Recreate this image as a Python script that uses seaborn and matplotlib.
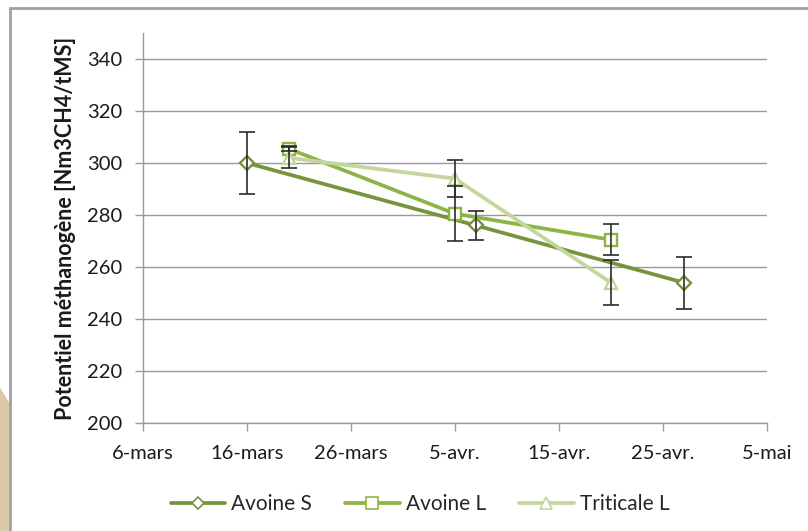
import matplotlib
matplotlib.use("Agg")
import matplotlib.pyplot as plt
from matplotlib.patches import Rectangle, Polygon
import pandas as pd
import seaborn as sns
from datetime import datetime

# Sampling dates, methane potential and error for each crop
avoine_s_dates = ["2012-03-16", "2012-04-07", "2012-04-27"]
avoine_s_vals = [300.0, 276.0, 254.0]
avoine_s_err = [12.0, 5.5, 10.0]

avoine_l_dates = ["2012-03-20", "2012-04-05", "2012-04-20"]
avoine_l_vals = [305.5, 280.5, 270.5]
avoine_l_err = [1.0, 10.5, 6.0]

triticale_l_dates = ["2012-03-20", "2012-04-05", "2012-04-20"]
triticale_l_vals = [302.0, 294.0, 254.0]
triticale_l_err = [4.0, 7.0, 8.5]

series_names = ["Avoine S", "Avoine L", "Triticale L"]
x_tick_labels = ["6-mars", "16-mars", "26-mars", "5-avr.", "15-avr.", "25-avr.", "5-mai"]
y_ticks = [200, 220, 240, 260, 280, 300, 320, 340]

colors = {"Avoine S": "#77933C", "Avoine L": "#8DB446", "Triticale L": "#C3D69B"}
markers = {"Avoine S": "D", "Avoine L": "s", "Triticale L": "^"}
msizes = {"Avoine S": 7, "Avoine L": 9, "Triticale L": 9}

frames = []
for name, d, v, e in [("Avoine S", avoine_s_dates, avoine_s_vals, avoine_s_err),
                      ("Avoine L", avoine_l_dates, avoine_l_vals, avoine_l_err),
                      ("Triticale L", triticale_l_dates, triticale_l_vals, triticale_l_err)]:
    frames.append(pd.DataFrame({"date": pd.to_datetime(d), "val": v, "err": e, "serie": name}))
df = pd.concat(frames, ignore_index=True)

sns.set_theme(style="white")
plt.rcParams["font.family"] = ["Lato", "DejaVu Sans"]

fig = plt.figure(figsize=(8.08, 5.31), dpi=100)
fig.patch.set_facecolor("white")

# decorative frame and corner shape
fig.patches.append(Polygon([[0, 0], [0.012, 0], [0.012, 0.24], [0, 0.27]], closed=True,
                           transform=fig.transFigure, facecolor="#D9C9A8", edgecolor="none", zorder=0))
fig.patches.append(Rectangle((0.0125, -0.05), 1.2, 1.035, transform=fig.transFigure,
                             facecolor="none", edgecolor="#A0A0A0", linewidth=2.0, zorder=0))

ax = fig.add_axes([0.177, 0.2034, 0.772, 0.7345])
ax.set_facecolor("none")
ax.set_zorder(2)

for name in series_names:
    sub = df[df["serie"] == name]
    sns.lineplot(data=sub, x="date", y="val", ax=ax, color=colors[name], linewidth=2.7,
                 marker=markers[name], markersize=msizes[name], markerfacecolor="white",
                 markeredgecolor=colors[name], markeredgewidth=1.7, label=name,
                 zorder=3, legend=False)

for name in series_names:
    sub = df[df["serie"] == name]
    ax.errorbar(sub["date"], sub["val"], yerr=sub["err"], fmt="none", ecolor="#2b2b2b",
                elinewidth=1.2, capsize=6, capthick=1.2, zorder=4)

start = datetime(2012, 3, 6)
end = datetime(2012, 5, 5)
ax.set_xlim(start, end)
ax.set_ylim(200, 350)
ticks = pd.date_range(start, end, freq="10D")
ax.set_xticks(ticks)
ax.set_xticklabels(x_tick_labels)
ax.set_yticks(y_ticks)
ax.yaxis.grid(True, color="#9a9a9a", linewidth=1.0)
ax.set_axisbelow(True)

for s in ["top", "right"]:
    ax.spines[s].set_visible(False)
for s in ["left", "bottom"]:
    ax.spines[s].set_color("#9a9a9a")
    ax.spines[s].set_linewidth(1.0)

ax.tick_params(axis="x", direction="out", length=6, width=1, color="#9a9a9a",
               labelsize=14.5, pad=10, labelcolor="#1a1a1a", bottom=True)
ax.tick_params(axis="y", direction="out", length=6, width=1, color="#9a9a9a",
               labelsize=14.5, pad=9, labelcolor="#1a1a1a", left=True)

ax.set_xlabel("")
ax.set_ylabel("Potentiel méthanogène [Nm3CH4/tMS]", fontsize=15.5, fontweight="bold",
              color="#1a1a1a", labelpad=8)

handles = [plt.Line2D([], [], color=colors[n], linewidth=2.7, marker=markers[n],
                      markersize=msizes[n] - 1, markerfacecolor="white",
                      markeredgecolor=colors[n], markeredgewidth=1.2) for n in series_names]
fig.legend(handles, series_names, loc="center", bbox_to_anchor=(0.52, 0.05), ncol=3,
           frameon=False, fontsize=15, handlelength=2.6, columnspacing=1.6, handletextpad=0.3)

fig.savefig("out.png", dpi=100)
